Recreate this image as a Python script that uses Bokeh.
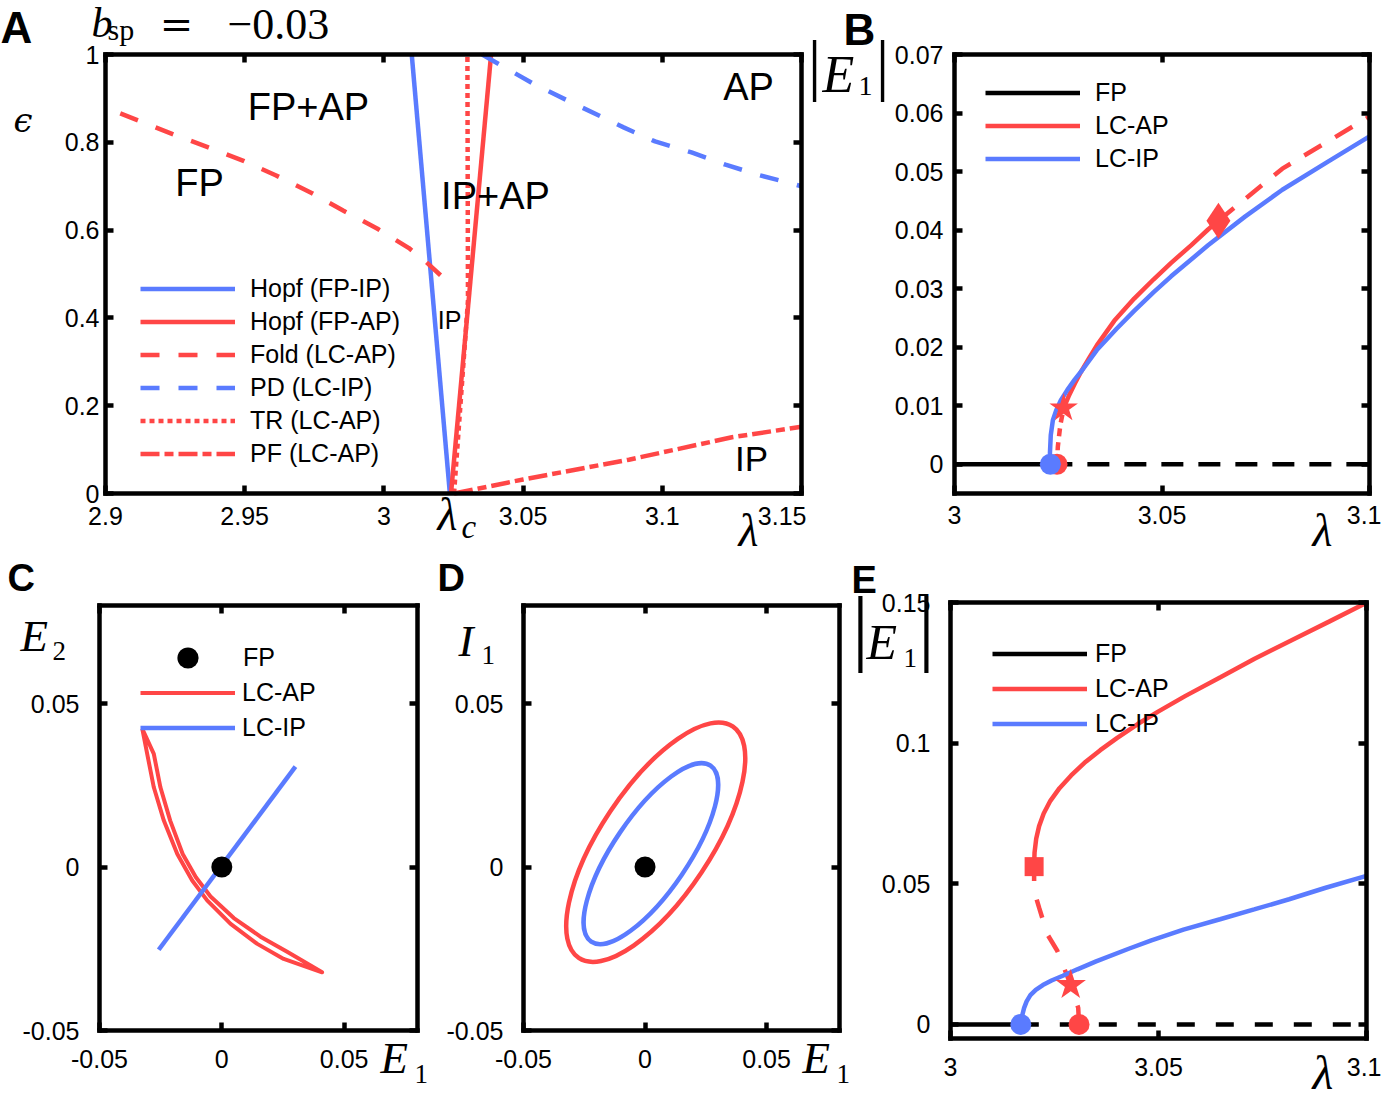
from bokeh.plotting import figure
from bokeh.models import Range1d, FixedTicker, LinearAxis, Label, Legend, LegendItem
from bokeh.layouts import row, column
from bokeh.embed import file_html
from bokeh.resources import INLINE

# ======================= DATA =======================
# ---- Panel A : two-parameter diagram (lambda, epsilon), b_sp = -0.03
hopf_ip_lam = [3.0100, 3.0237]
hopf_ip_eps = [1.0, 0.0]
hopf_ap_lam = [3.0241, 3.0385]
hopf_ap_eps = [0.0, 1.0]
fold_lam = [2.9053, 2.9244, 2.9367, 2.9498, 2.9611, 2.9742, 2.9855, 2.9977, 3.0090, 3.0147, 3.0250]
fold_eps = [0.866, 0.818, 0.789, 0.757, 0.725, 0.684, 0.644, 0.603, 0.559, 0.530, 0.470]
pd_lam = [3.0353, 3.0532, 3.0673, 3.0861, 3.0974, 3.1105, 3.1227, 3.1350, 3.1500]
pd_eps = [1.000, 0.935, 0.891, 0.834, 0.802, 0.777, 0.749, 0.725, 0.700]
tr_lam = [3.0252, 3.0302, 3.0300]
tr_eps = [0.0, 0.44, 1.0]
pf_lam = [3.0252, 3.0500, 3.0880, 3.1250, 3.1500]
pf_eps = [0.0, 0.032, 0.077, 0.128, 0.152]
a_xticks = [2.9, 2.95, 3.0, 3.05, 3.1, 3.15]
a_xlabels = ["2.9", "2.95", "3", "3.05", "3.1", "3.15"]
a_yticks = [0.0, 0.2, 0.4, 0.6, 0.8, 1.0]
a_ylabels = ["0", "0.2", "0.4", "0.6", "0.8", "1"]
a_legend = ["Hopf (FP-IP)", "Hopf (FP-AP)", "Fold (LC-AP)", "PD (LC-IP)", "TR (LC-AP)", "PF (LC-AP)"]

# ---- Panel B : one-parameter diagram, |E1| vs lambda
b_fp_s_lam = [3.0, 3.0231]
b_fp_s_amp = [0.0, 0.0]
b_fp_u_lam = [3.0231, 3.1]
b_fp_u_amp = [0.0, 0.0]
b_ip_lam = [3.0231, 3.0230, 3.0232, 3.0237, 3.0245, 3.0256, 3.0272, 3.0290, 3.0308, 3.0343,
            3.0390, 3.0433, 3.0480, 3.0522, 3.0611, 3.0700, 3.0790, 3.0900, 3.1000]
b_ip_amp = [0.0, 0.0019, 0.0050, 0.0075, 0.0092, 0.0109, 0.0127, 0.0145, 0.0161, 0.0195,
            0.0231, 0.0262, 0.0294, 0.0321, 0.0374, 0.0423, 0.0469, 0.0517, 0.0560]
b_ap_u1_lam = [3.0247, 3.0249, 3.0255, 3.0263]
b_ap_u1_amp = [0.0, 0.0030, 0.0067, 0.0096]
b_ap_s_lam = [3.0263, 3.0275, 3.0290, 3.0305, 3.0325, 3.0343, 3.0385, 3.0433, 3.0480, 3.0522,
              3.0570, 3.0611, 3.0636]
b_ap_s_amp = [0.0096, 0.0116, 0.0138, 0.0158, 0.0182, 0.0203, 0.0245, 0.0283, 0.0316, 0.0344,
              0.0374, 0.0401, 0.0416]
b_ap_u2_lam = [3.0636, 3.0790, 3.1000]
b_ap_u2_amp = [0.0416, 0.0505, 0.0594]
b_hopf_ip_lam, b_hopf_ip_amp = [3.0231], [0.0]
b_hopf_ap_lam, b_hopf_ap_amp = [3.0247], [0.0]
b_tr_lam, b_tr_amp = [3.0263], [0.0096]
b_pd_lam, b_pd_amp = [3.0636], [0.0416]
b_xticks = [3.0, 3.05, 3.1]
b_xlabels = ["3", "3.05", "3.1"]
b_yticks = [0.0, 0.01, 0.02, 0.03, 0.04, 0.05, 0.06, 0.07]
b_ylabels = ["0", "0.01", "0.02", "0.03", "0.04", "0.05", "0.06", "0.07"]
bE_legend = ["FP", "LC-AP", "LC-IP"]

# ---- Panel C : (E1, E2) projection
c_ap_outer_e1 = [-0.0325, -0.0305, -0.0278, -0.0237, -0.0182, -0.0121, -0.0060, 0.0036, 0.0145, 0.0253, 0.0410]
c_ap_outer_e2 = [0.0423, 0.0346, 0.0244, 0.0142, 0.0040, -0.0041, -0.0102, -0.0174, -0.0235, -0.0281, -0.0322]
c_ap_inner_e1 = [0.0410, 0.0267, 0.0158, 0.0049, -0.0046, -0.0106, -0.0160, -0.0211, -0.0251, -0.0278, -0.0325]
c_ap_inner_e2 = [-0.0322, -0.0259, -0.0213, -0.0156, -0.0090, -0.0031, 0.0040, 0.0142, 0.0244, 0.0346, 0.0423]
c_ip_e1 = [-0.0258, 0.0301]
c_ip_e2 = [-0.0253, 0.0307]
fp_e1, fp_e2 = [0.0], [0.0]
cd_ticks = [-0.05, 0.0, 0.05]
cd_labels = ["-0.05", "0", "0.05"]

# ---- Panel D : (E1, I1) projection, limit cycles as ellipses
d_cx = [0.0044, 0.0024]          # AP, IP
d_cy = [0.0076, 0.0041]
d_w = [0.1144, 0.0875]
d_h = [0.0336, 0.0229]
d_ang = [0.984, 0.975]

# ---- Panel E : one-parameter diagram, |E1| vs lambda
e_fp_s_lam = [3.0, 3.0169]
e_fp_s_amp = [0.0, 0.0]
e_fp_u_lam = [3.0169, 3.1]
e_fp_u_amp = [0.0, 0.0]
e_ip_lam = [3.0169, 3.0172, 3.0177, 3.0183, 3.0192, 3.0205, 3.0222, 3.0243, 3.0270, 3.0305,
            3.0350, 3.0430, 3.0483, 3.0560, 3.0648, 3.0730, 3.0814, 3.0900, 3.1000]
e_ip_amp = [0.0, 0.0030, 0.0059, 0.0082, 0.0104, 0.0123, 0.0140, 0.0156, 0.0173, 0.0196,
            0.0224, 0.0270, 0.0299, 0.0337, 0.0374, 0.0409, 0.0445, 0.0485, 0.0528]
e_ap_u_lam = [3.0309, 3.0307, 3.0289, 3.0257, 3.0233, 3.0213, 3.0201, 3.0201]
e_ap_u_amp = [0.0, 0.0059, 0.0140, 0.0261, 0.0320, 0.0415, 0.0475, 0.0561]
e_ap_s_lam = [3.0201, 3.0202, 3.0206, 3.0213, 3.0224, 3.0240, 3.0262, 3.0290, 3.0322, 3.0360,
              3.0400, 3.0450, 3.0499, 3.0565, 3.0650, 3.0731, 3.0820, 3.0910, 3.1000]
e_ap_s_amp = [0.0561, 0.0610, 0.0660, 0.0705, 0.0750, 0.0795, 0.0840, 0.0885, 0.0930, 0.0975,
              0.1018, 0.1068, 0.1112, 0.1168, 0.1235, 0.1300, 0.1366, 0.1432, 0.1499]
e_hopf_ip_lam, e_hopf_ip_amp = [3.0169], [0.0]
e_hopf_ap_lam, e_hopf_ap_amp = [3.0309], [0.0]
e_tr_lam, e_tr_amp = [3.0289], [0.0140]
e_fold_lam, e_fold_amp = [3.0201], [0.0561]
e_yticks = [0.0, 0.05, 0.1, 0.15]
e_ylabels = ["0", "0.05", "0.1", "0.15"]

# ======================= STYLE =======================
RED = "#ff4646"
BLUE = "#5a7bff"
SANS = "Liberation Sans"
SERIF = "Liberation Serif"
LW = 4.5
BASE_SHIFT = 0.37   # rendered alphabetic baseline sits this many em below the anchor


def style_axis(ax, hidden=False, stand=10):
    ax.axis_line_color = "black"
    ax.axis_line_width = 4.5
    ax.axis_line_cap = "square"
    ax.major_tick_in = 8
    ax.major_tick_out = 0
    ax.major_tick_line_width = 4.5
    ax.major_tick_line_color = "black"
    ax.minor_tick_line_color = None
    if hidden:
        ax.major_label_text_font_size = "0px"
        ax.major_label_standoff = 0
    else:
        ax.major_label_text_font = SANS
        ax.major_label_text_font_size = "25px"
        ax.major_label_text_color = "black"
        ax.major_label_standoff = stand


def panel(W, H, OX, OY, box, xr, yr, xt, xl, yt, yl, xstand, ystand):
    """box = (left, right, top, bottom) of the plot box in page pixels."""
    L, R, T, B = box[0] - OX, box[1] - OX, box[2] - OY, box[3] - OY
    x0, x1 = xr
    y0, y1 = yr
    kx = (x1 - x0) / (R - L)
    ky = (y1 - y0) / (B - T)
    p = figure(width=W, height=H,
               x_range=Range1d(x0 - L * kx, x1 + (W - R) * kx),
               y_range=Range1d(y0 - (H - B) * ky, y1 + T * ky),
               output_backend="svg", toolbar_location=None, title=None, min_border=0)
    p.xgrid.visible = False
    p.ygrid.visible = False
    p.outline_line_color = None
    p.background_fill_color = "white"
    p.border_fill_color = "white"
    xa, ya = p.xaxis[0], p.yaxis[0]
    xa.ticker = FixedTicker(ticks=xt)
    xa.major_label_overrides = dict(zip(xt, xl))
    xa.fixed_location = y0
    xa.bounds = (x0, x1)
    ya.ticker = FixedTicker(ticks=yt)
    ya.major_label_overrides = dict(zip(yt, yl))
    ya.fixed_location = x0
    ya.bounds = (y0, y1)
    style_axis(xa, stand=xstand)
    style_axis(ya, stand=ystand)
    top = LinearAxis(ticker=FixedTicker(ticks=xt), major_label_overrides={v: "" for v in xt},
                     fixed_location=y1, bounds=(x0, x1))
    style_axis(top, hidden=True)
    p.add_layout(top, "above")
    right = LinearAxis(ticker=FixedTicker(ticks=yt), major_label_overrides={v: "" for v in yt},
                       fixed_location=x1, bounds=(y0, y1))
    style_axis(right, hidden=True)
    p.add_layout(right, "right")
    p._org = (OX, OY + H)
    return p


def txt(p, text, X, Y, size, font=SANS, style="normal", align="left"):
    """X, Y: page position of the text's left/centre and its visual baseline."""
    OX, BOT = p._org
    p.add_layout(Label(x=X - OX, y=BOT - (Y - BASE_SHIFT * size), x_units="screen", y_units="screen",
                       text=text, text_font=font, text_font_size=f"{size}px", text_font_style=style,
                       text_align=align, text_baseline="alphabetic", text_color="black"))


def legend(p, items, X, Ybottom, gw, gh, standoff):
    OX, BOT = p._org
    lg = Legend(items=[LegendItem(label=t, renderers=[r]) for t, r in items],
                location=(X - OX, BOT - Ybottom), glyph_width=gw, glyph_height=gh,
                label_standoff=standoff, spacing=0, padding=0, margin=0, border_line_color=None,
                background_fill_alpha=0.0, label_text_font=SANS, label_text_font_size="25px",
                label_text_color="black")
    p.add_layout(lg)
    return lg


# ======================= PANEL A =======================
pA = panel(806, 557, 0, 0, (105, 801, 54, 493), (2.9, 3.15), (0.0, 1.0),
           a_xticks, a_xlabels, a_yticks, a_ylabels, 13, 6)
rA1 = pA.line(hopf_ip_lam, hopf_ip_eps, line_color=BLUE, line_width=LW)
rA2 = pA.line(hopf_ap_lam, hopf_ap_eps, line_color=RED, line_width=LW)
rA5 = pA.line(tr_lam, tr_eps, line_color=RED, line_width=LW, line_dash="5 4")
rA3 = pA.line(fold_lam, fold_eps, line_color=RED, line_width=LW, line_dash="19 19")
rA4 = pA.line(pd_lam, pd_eps, line_color=BLUE, line_width=LW, line_dash="19 19")
rA6 = pA.line(pf_lam, pf_eps, line_color=RED, line_width=LW, line_dash="19 5 9 5")
legend(pA, list(zip(a_legend, [rA1, rA2, rA3, rA4, rA5, rA6])), 140, 470, 95, 33, 15)

txt(pA, "A", 0, 43, 44, style="bold")
txt(pA, "b", 91, 38, 42, font=SERIF, style="italic")
txt(pA, "sp", 107, 40, 30, font=SERIF)
txt(pA, "=", 176, 38, 40, font="DejaVu Serif", align="center")
txt(pA, "\u22120.03", 227, 40, 44, font=SERIF)
txt(pA, "\u03f5", 13, 132, 34, font="DejaVu Serif", style="italic")
txt(pA, "\u03bb", 738, 547, 46, font=SERIF, style="italic")
txt(pA, "\u03bb", 437, 531, 46, font=SERIF, style="italic")
txt(pA, "c", 461, 539, 33, font=SERIF, style="italic")
txt(pA, "FP+AP", 308, 121, 38, align="center")
txt(pA, "FP", 199, 197, 38, align="center")
txt(pA, "IP+AP", 495, 210, 38, align="center")
txt(pA, "AP", 748, 101, 38, align="center")
txt(pA, "IP", 449, 329, 25, align="center")
txt(pA, "IP", 751, 471, 35, align="center")

# ======================= PANEL B =======================
pB = panel(575, 557, 806, 0, (954, 1369, 54, 493), (3.0, 3.1), (-0.005, 0.07),
           b_xticks, b_xlabels, b_yticks, b_ylabels, 12, 11)
rB1 = pB.line(b_fp_s_lam, b_fp_s_amp, line_color="black", line_width=LW)
pB.line(b_fp_u_lam, b_fp_u_amp, line_color="black", line_width=LW, line_dash="22 15")
pB.line(b_ap_u1_lam, b_ap_u1_amp, line_color=RED, line_width=LW, line_dash="8 6")
rB2 = pB.line(b_ap_s_lam, b_ap_s_amp, line_color=RED, line_width=LW)
pB.line(b_ap_u2_lam, b_ap_u2_amp, line_color=RED, line_width=LW, line_dash="20 16")
rB3 = pB.line(b_ip_lam, b_ip_amp, line_color=BLUE, line_width=LW)
pB.scatter(b_hopf_ap_lam, b_hopf_ap_amp, marker="circle", size=21, fill_color=RED, line_color=None)
pB.scatter(b_hopf_ip_lam, b_hopf_ip_amp, marker="circle", size=21, fill_color=BLUE, line_color=None)
pB.scatter(b_tr_lam, b_tr_amp, marker="star", size=30, fill_color=RED, line_color=None)
pB.scatter(b_pd_lam, b_pd_amp, marker="diamond", size=36, fill_color=RED, line_color=None)
legend(pB, list(zip(bE_legend, [rB1, rB2, rB3])), 985, 175, 95, 33, 15)

txt(pB, "B", 843, 45, 44, style="bold")
txt(pB, "|", 814, 90, 68, font=SERIF, align="center")
txt(pB, "E", 822, 93, 52, font=SERIF, style="italic")
txt(pB, "1", 858, 96, 28, font=SERIF)
txt(pB, "|", 882, 90, 68, font=SERIF, align="center")
txt(pB, "\u03bb", 1312, 547, 46, font=SERIF, style="italic")

# ======================= PANEL C =======================
pC = panel(435, 544, 0, 557, (99, 417, 605, 1030), (-0.05, 0.08), (-0.05, 0.08),
           cd_ticks, cd_labels, cd_ticks, cd_labels, 19, 20)
rC2 = pC.line(c_ap_outer_e1 + c_ap_inner_e1, c_ap_outer_e2 + c_ap_inner_e2,
              line_color=RED, line_width=4, line_join="round")
rC3 = pC.line(c_ip_e1, c_ip_e2, line_color=BLUE, line_width=LW)
rC1 = pC.scatter(fp_e1, fp_e2, marker="circle", size=21, fill_color="black", line_color=None)
legend(pC, [("FP", rC1)], 140, 684, 95, 53, 8)
legend(pC, [("LC-AP", rC2), ("LC-IP", rC3)], 140, 745, 95, 35, 7)

txt(pC, "C", 7, 592, 38, style="bold")
txt(pC, "E", 20, 652, 45, font=SERIF, style="italic")
txt(pC, "2", 52, 660, 27, font=SERIF)
txt(pC, "E", 380, 1074, 45, font=SERIF, style="italic")
txt(pC, "1", 414, 1083, 27, font=SERIF)

# ======================= PANEL D =======================
pD = panel(416, 544, 435, 557, (523, 839, 605, 1030), (-0.05, 0.08), (-0.05, 0.08),
           cd_ticks, cd_labels, cd_ticks, cd_labels, 19, 20)
pD.ellipse(x=d_cx[:1], y=d_cy[:1], width=d_w[:1], height=d_h[:1], angle=d_ang[:1],
           fill_color=None, line_color=RED, line_width=LW)
pD.ellipse(x=d_cx[1:], y=d_cy[1:], width=d_w[1:], height=d_h[1:], angle=d_ang[1:],
           fill_color=None, line_color=BLUE, line_width=LW)
pD.scatter(fp_e1, fp_e2, marker="circle", size=21, fill_color="black", line_color=None)

txt(pD, "D", 437, 592, 38, style="bold")
txt(pD, "I", 458, 657, 45, font=SERIF, style="italic")
txt(pD, "1", 481, 664, 27, font=SERIF)
txt(pD, "E", 802, 1074, 45, font=SERIF, style="italic")
txt(pD, "1", 836, 1083, 27, font=SERIF)

# ======================= PANEL E =======================
pE = panel(530, 544, 851, 557, (950, 1366, 602, 1038), (3.0, 3.1), (-0.005, 0.15),
           b_xticks, b_xlabels, e_yticks, e_ylabels, 19, 20)
rE1 = pE.line(e_fp_s_lam, e_fp_s_amp, line_color="black", line_width=LW)
pE.line(e_fp_u_lam, e_fp_u_amp, line_color="black", line_width=LW, line_dash="18 21")
pE.line(e_ap_u_lam, e_ap_u_amp, line_color=RED, line_width=LW, line_dash="19 19")
rE3 = pE.line(e_ip_lam, e_ip_amp, line_color=BLUE, line_width=LW)
rE2 = pE.line(e_ap_s_lam, e_ap_s_amp, line_color=RED, line_width=LW)
pE.scatter(e_hopf_ip_lam, e_hopf_ip_amp, marker="circle", size=21, fill_color=BLUE, line_color=None)
pE.scatter(e_hopf_ap_lam, e_hopf_ap_amp, marker="circle", size=21, fill_color=RED, line_color=None)
pE.scatter(e_tr_lam, e_tr_amp, marker="star", size=32, fill_color=RED, line_color=None)
pE.scatter(e_fold_lam, e_fold_amp, marker="square", size=19, fill_color=RED, line_color=None)
legend(pE, list(zip(bE_legend, [rE1, rE2, rE3])), 992, 741, 95, 35, 8)

txt(pE, "E", 851, 594, 38, style="bold")
txt(pE, "|", 860, 657, 84, font=SERIF, align="center")
txt(pE, "E", 866, 660, 50, font=SERIF, style="italic")
txt(pE, "1", 903, 667, 27, font=SERIF)
txt(pE, "|", 926, 657, 84, font=SERIF, align="center")
txt(pE, "\u03bb", 1312, 1090, 48, font=SERIF, style="italic")

layout = column(row(pA, pB), row(pC, pD, pE))
open("out.html", "w").write(file_html(layout, INLINE))
